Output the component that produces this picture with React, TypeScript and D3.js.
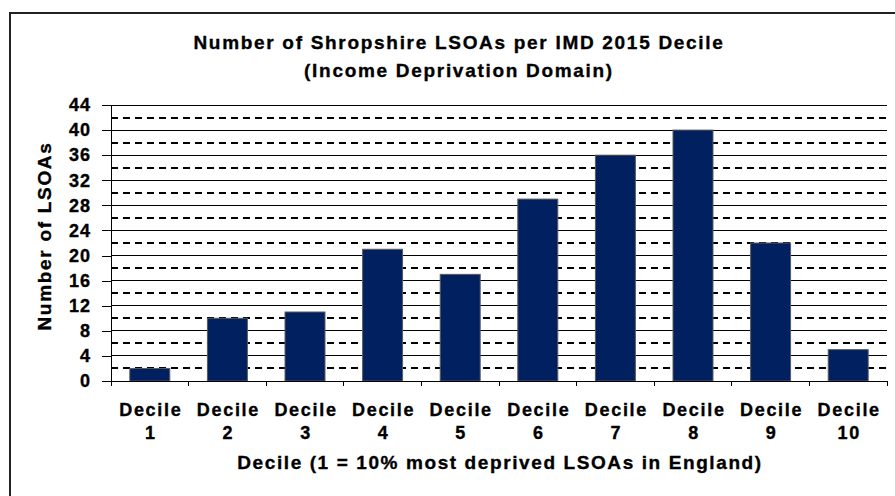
import React, { useEffect, useRef } from 'react';
import * as d3 from 'd3';

const deciles = ['1', '2', '3', '4', '5', '6', '7', '8', '9', '10'];
const lsoaCounts = [2, 10, 11, 21, 17, 29, 36, 40, 22, 5];
const yTicks = [0, 4, 8, 12, 16, 20, 24, 28, 32, 36, 40, 44];
const minorLines = [2, 6, 10, 14, 18, 22, 26, 30, 34, 38, 42];
const titleLines = ['Number of Shropshire LSOAs per IMD 2015 Decile', '(Income Deprivation Domain)'];
const yTitle = 'Number of LSOAs';
const xTitle = 'Decile (1 = 10% most deprived LSOAs in England)';

const FONT = '"Liberation Sans", Arial, sans-serif';

const App = () => {
  const svgRef = useRef<SVGSVGElement>(null);

  useEffect(() => {
    const svg = d3.select(svgRef.current);
    svg.selectAll('*').remove(); // Clear previous contents

    const width = 895;
    const height = 496;
    const plot = { left: 111, right: 887, top: 105, bottom: 381 };

    svg.attr('width', width).attr('height', height);

    // chart frame (runs off the right and bottom of the picture)
    svg.append('rect')
      .attr('x', 10).attr('y', 13)
      .attr('width', 900).attr('height', 500)
      .attr('fill', '#fff')
      .attr('stroke', '#222')
      .attr('stroke-width', 2);

    const x = d3.scaleBand()
      .domain(deciles)
      .range([plot.left, plot.right])
      .paddingInner(0.485)
      .paddingOuter(0.2425);

    const y = d3.scaleLinear()
      .domain([0, 44])
      .range([plot.bottom, plot.top]);

    const grid = svg.append('g').attr('shape-rendering', 'crispEdges');

    grid.selectAll('line.major')
      .data(yTicks.slice(1))
      .enter()
      .append('line')
      .attr('class', 'major')
      .attr('x1', plot.left).attr('x2', plot.right)
      .attr('y1', d => y(d)).attr('y2', d => y(d))
      .attr('stroke', '#000')
      .attr('stroke-width', 1);

    grid.selectAll('line.minor')
      .data(minorLines)
      .enter()
      .append('line')
      .attr('class', 'minor')
      .attr('x1', plot.left).attr('x2', plot.right)
      .attr('y1', d => y(d)).attr('y2', d => y(d))
      .attr('stroke', '#000')
      .attr('stroke-width', 2)
      .attr('stroke-dasharray', '7,5');

    svg.append('g')
      .selectAll('rect')
      .data(lsoaCounts)
      .enter()
      .append('rect')
      .attr('x', (d, i) => x(deciles[i]) as number)
      .attr('y', d => y(d))
      .attr('width', x.bandwidth())
      .attr('height', d => y(0) - y(d))
      .attr('fill', '#002060')
      .attr('stroke', '#5a5a5a')
      .attr('stroke-width', 1);

    // y axis
    const yAxis = svg.append('g')
      .attr('transform', `translate(${plot.left},0)`)
      .call(d3.axisLeft(y).tickValues(yTicks).tickSize(9).tickPadding(11).tickSizeOuter(0));
    yAxis.select('.domain').attr('stroke', '#000').attr('shape-rendering', 'crispEdges');
    yAxis.selectAll('.tick line').attr('stroke', '#000').attr('shape-rendering', 'crispEdges');
    yAxis.selectAll('.tick text')
      .attr('fill', '#000')
      .attr('stroke', '#000')
      .attr('stroke-width', 0.35)
      .attr('font-family', FONT)
      .attr('font-weight', 'bold')
      .attr('font-size', 18)
      .attr('letter-spacing', 1);

    // x axis: ticks on the category boundaries
    const step = x.step();
    const boundaries = d3.range(deciles.length + 1).map(i => plot.left + i * step);
    const xAxis = svg.append('g').attr('shape-rendering', 'crispEdges');
    xAxis.append('line')
      .attr('x1', plot.left).attr('x2', plot.right)
      .attr('y1', y(0)).attr('y2', y(0))
      .attr('stroke', '#000');
    xAxis.selectAll('line.tick')
      .data(boundaries)
      .enter()
      .append('line')
      .attr('class', 'tick')
      .attr('x1', d => d).attr('x2', d => d)
      .attr('y1', y(0)).attr('y2', y(0) + 5)
      .attr('stroke', '#000');

    const xLabels = svg.append('g')
      .attr('font-family', FONT)
      .attr('font-weight', 'bold')
      .attr('font-size', 18)
      .attr('letter-spacing', 1.7)
      .attr('text-anchor', 'middle')
      .attr('fill', '#000')
      .attr('stroke', '#000')
      .attr('stroke-width', 0.35);
    const labelGroups = xLabels.selectAll('g')
      .data(deciles)
      .enter()
      .append('g')
      .attr('transform', d => `translate(${(x(d) as number) + x.bandwidth() / 2 + 1},0)`);
    labelGroups.append('text').attr('y', 416).text('Decile');
    labelGroups.append('text').attr('y', 439).text(d => d);

    // titles
    svg.append('g')
      .attr('font-family', FONT)
      .attr('font-weight', 'bold')
      .attr('font-size', 19)
      .attr('letter-spacing', 1.7)
      .attr('text-anchor', 'middle')
      .attr('stroke', '#000')
      .attr('stroke-width', 0.35)
      .selectAll('text')
      .data(titleLines)
      .enter()
      .append('text')
      .attr('x', 459)
      .attr('y', (d, i) => 49 + i * 28)
      .text(d => d);

    svg.append('text')
      .attr('transform', 'translate(51,236) rotate(-90)')
      .attr('font-family', FONT)
      .attr('font-weight', 'bold')
      .attr('font-size', 19)
      .attr('letter-spacing', 1.7)
      .attr('text-anchor', 'middle')
      .attr('stroke', '#000')
      .attr('stroke-width', 0.35)
      .text(yTitle);

    svg.append('text')
      .attr('x', (plot.left + plot.right) / 2 + 1)
      .attr('y', 469)
      .attr('font-family', FONT)
      .attr('font-weight', 'bold')
      .attr('font-size', 19)
      .attr('letter-spacing', 1.6)
      .attr('text-anchor', 'middle')
      .attr('stroke', '#000')
      .attr('stroke-width', 0.35)
      .text(xTitle);
  }, []);

  return (
    <svg
      ref={svgRef}
      viewBox="0 0 895 496"
      style={{ position: 'absolute', left: 0, top: 0, display: 'block', background: '#fff' }}
    ></svg>
  );
};

export default App;
